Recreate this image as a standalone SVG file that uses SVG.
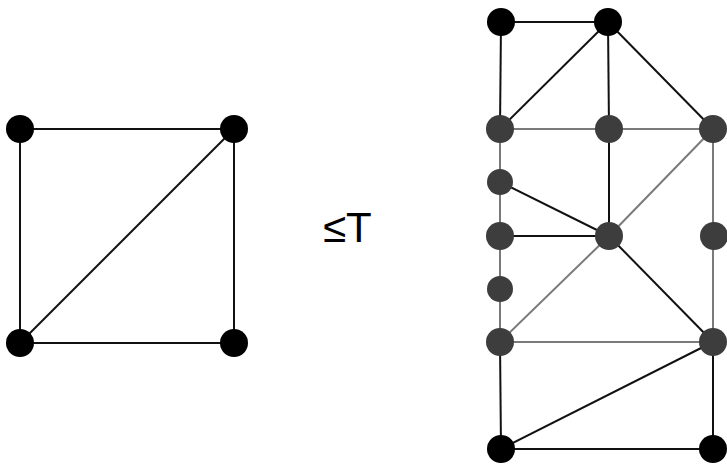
<svg xmlns="http://www.w3.org/2000/svg" width="727" height="465" viewBox="0 0 727 465">
<style>
.d{stroke:#111;stroke-width:2;fill:none}
.g{stroke:#7a7a7a;stroke-width:2;fill:none}
.b{fill:#000}
.n{fill:#3d3d3d}
text{font-family:"Liberation Sans",Arial,sans-serif;font-size:42px;fill:#000}
</style>
<rect width="727" height="465" fill="#fff"/>
<g id="connectors">
<line class="d" x1="20" y1="129" x2="234" y2="129"/>
<line class="d" x1="20" y1="129" x2="20" y2="343"/>
<line class="d" x1="234" y1="129" x2="234" y2="343"/>
<line class="d" x1="20" y1="343" x2="234" y2="343"/>
<line class="d" x1="20" y1="343" x2="234" y2="129"/>
<line class="d" x1="501" y1="22" x2="608" y2="22"/>
<line class="d" x1="501" y1="22" x2="500" y2="129"/>
<line class="d" x1="608" y1="22" x2="500" y2="129"/>
<line class="d" x1="608" y1="22" x2="609" y2="129"/>
<line class="d" x1="608" y1="22" x2="713" y2="129"/>
<line class="g" x1="500" y1="129" x2="713" y2="129"/>
<line class="g" x1="500" y1="129" x2="500" y2="342"/>
<line class="d" x1="500" y1="182" x2="609" y2="236"/>
<line class="d" x1="609" y1="129" x2="609" y2="236"/>
<line class="g" x1="713" y1="129" x2="609" y2="236"/>
<line class="g" x1="713" y1="129" x2="713" y2="342"/>
<line class="d" x1="500" y1="236" x2="609" y2="236"/>
<line class="g" x1="609" y1="236" x2="500" y2="342"/>
<line class="d" x1="609" y1="236" x2="713" y2="342"/>
<line class="g" x1="500" y1="342" x2="713" y2="342"/>
<line class="d" x1="500" y1="342" x2="501" y2="449"/>
<line class="d" x1="713" y1="342" x2="501" y2="449"/>
<line class="d" x1="713" y1="342" x2="713" y2="449"/>
<line class="d" x1="501" y1="449" x2="713" y2="449"/>
</g>
<g id="L1"><circle class="b" cx="20" cy="129" r="14"/></g>
<g id="L2"><circle class="b" cx="234" cy="129" r="14"/></g>
<g id="L3"><circle class="b" cx="20" cy="343" r="14"/></g>
<g id="L4"><circle class="b" cx="234" cy="343" r="14"/></g>
<g id="label"><text x="323" y="242">≤T</text></g>
<g id="R1"><circle class="b" cx="501" cy="22" r="14"/></g>
<g id="R2"><circle class="b" cx="608" cy="22" r="14"/></g>
<g id="R3"><circle class="n" cx="500" cy="129" r="14"/></g>
<g id="R4"><circle class="n" cx="609" cy="129" r="14"/></g>
<g id="R5"><circle class="n" cx="713" cy="129" r="14"/></g>
<g id="R6"><circle class="n" cx="500" cy="182" r="13"/></g>
<g id="R7"><circle class="n" cx="500" cy="236" r="14"/></g>
<g id="R8"><circle class="n" cx="609" cy="236" r="14"/></g>
<g id="R9"><circle class="n" cx="714" cy="236" r="14"/></g>
<g id="R10"><circle class="n" cx="500" cy="289" r="13"/></g>
<g id="R11"><circle class="n" cx="500" cy="342" r="14"/></g>
<g id="R12"><circle class="n" cx="713" cy="342" r="14"/></g>
<g id="R13"><circle class="b" cx="501" cy="449" r="14"/></g>
<g id="R14"><circle class="b" cx="713" cy="449" r="14"/></g>
</svg>
